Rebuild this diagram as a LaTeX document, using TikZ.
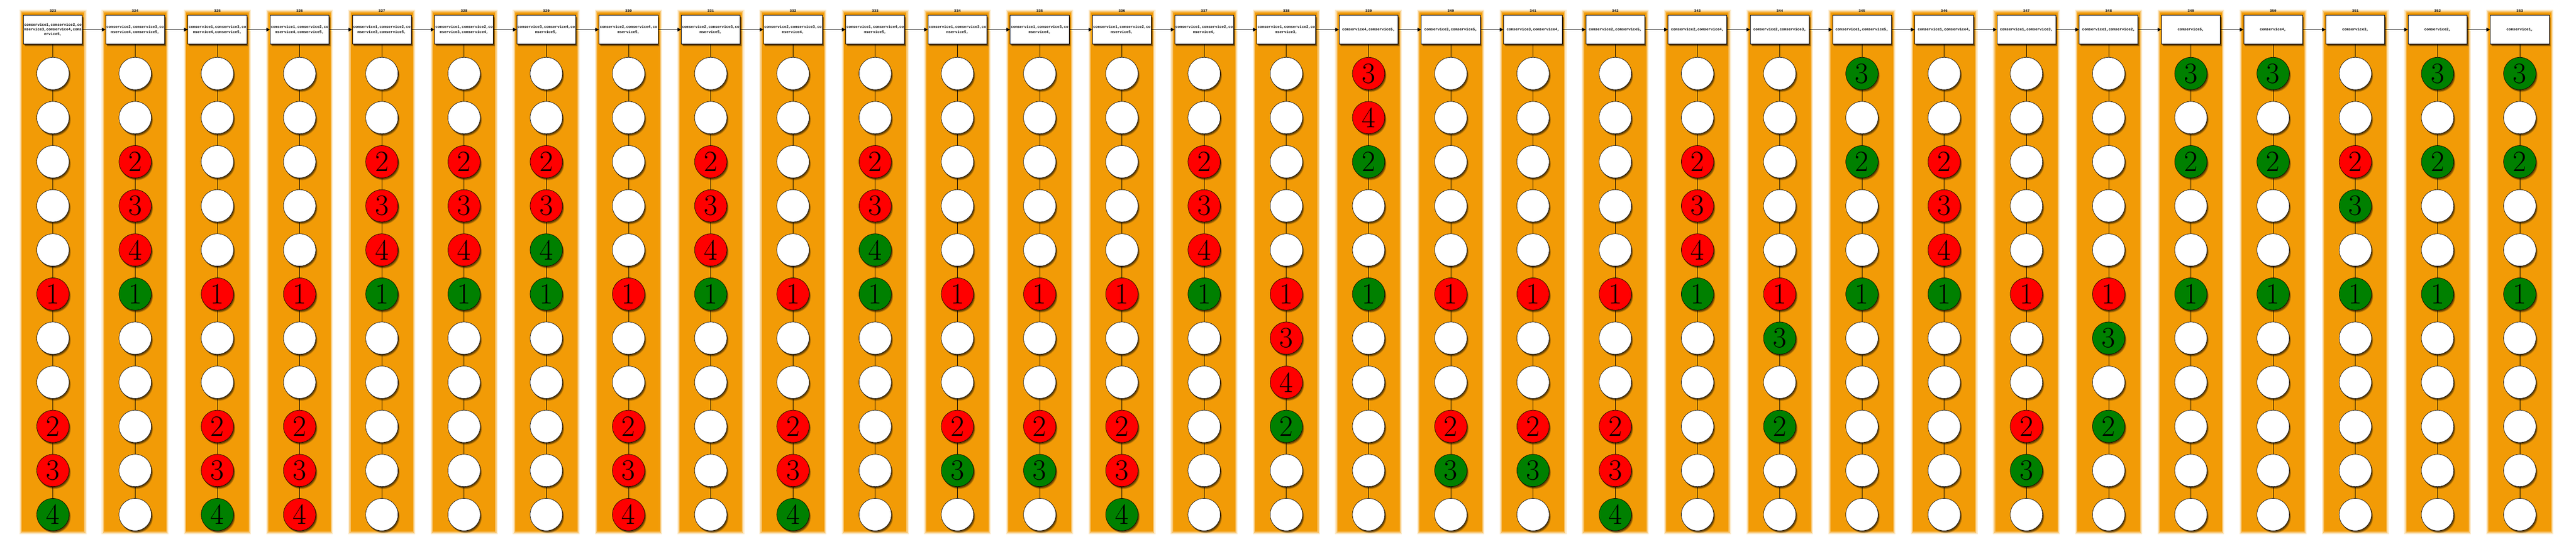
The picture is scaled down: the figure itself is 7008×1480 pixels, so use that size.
\documentclass[tikz,border=0pt]{standalone}
\usepackage{fontspec}
\setmonofont{Liberation Mono}
\usetikzlibrary{shadows,arrows.meta}
\definecolor{stripcol}{RGB}{242,155,6}
\colorlet{colw}{white}
\colorlet{colr}{red}
\colorlet{colg}{green!50!black}
\tikzset{
  softshadow/.style={
    drop shadow={shadow xshift=2.2pt, shadow yshift=-3.2pt, opacity=0.18, fill=black},
    drop shadow={shadow xshift=1.6pt, shadow yshift=-2.4pt, opacity=0.25, fill=black},
    drop shadow={shadow xshift=1pt, shadow yshift=-1.6pt, opacity=0.3, fill=black}},
  boxnode/.style={draw=black, line width=0.65pt, fill=white, minimum width=80pt, minimum height=39.5pt, inner sep=0pt, align=center,
    font=\ttfamily\bfseries\fontsize{5}{6.5}\selectfont, softshadow},
  labnode/.style={font=\ttfamily\bfseries\fontsize{5}{6}\selectfont, inner sep=0pt},
  circnode/.style={circle, draw=black, line width=0.5pt, minimum size=44pt, inner sep=0pt,
    font=\fontsize{40}{40}\selectfont, softshadow},
  link/.style={draw=black, line width=0.5pt},
  arr/.style={draw=black, line width=0.6pt, -{Triangle[length=5pt,width=5pt]}},
}
\newcommand\mycol[4]{%
  \pgfmathsetmacro\cx{144+223.7*#1}
  \fill[stripcol, opacity=0.2] (\cx-91,27) rectangle (\cx+91,1453);
  \fill[stripcol, opacity=0.45] (\cx-88,30) rectangle (\cx+88,1450);
  \fill[stripcol] (\cx-85,33) rectangle (\cx+85,1447);
  \node[labnode] (l-#1) at (\cx,30) {#2};
  \node[boxnode] (b-#1) at (\cx,80.5) {#3};
  \foreach \cc/\nn [count=\rr] in {#4} {
    \node[circnode, fill=col\cc] (c-#1-\rr) at (\cx,{200+120*(\rr-1)}) {\nn};
  }
  \draw[link] (b-#1.south) -- (c-#1-1.north);
  \foreach \rr [evaluate=\rr as \rn using int(\rr+1)] in {1,...,10}
    \draw[link] (c-#1-\rr.south) -- (c-#1-\rn.north);
}
\begin{document}
\begin{tikzpicture}[x=0.5pt,y=-0.5pt]
\fill[white] (0,0) rectangle (7008,1480);
\useasboundingbox (0,0) rectangle (7008,1480);
\mycol{0}{323}{comservice1,comservice2,co\\mservice3,comservice4,coms\\ervice5,}{w/{},w/{},w/{},w/{},w/{},r/1,w/{},w/{},r/2,r/3,g/4}
\mycol{1}{324}{comservice2,comservice3,co\\mservice4,comservice5,}{w/{},w/{},r/2,r/3,r/4,g/1,w/{},w/{},w/{},w/{},w/{}}
\mycol{2}{325}{comservice1,comservice3,co\\mservice4,comservice5,}{w/{},w/{},w/{},w/{},w/{},r/1,w/{},w/{},r/2,r/3,g/4}
\mycol{3}{326}{comservice1,comservice2,co\\mservice4,comservice5,}{w/{},w/{},w/{},w/{},w/{},r/1,w/{},w/{},r/2,r/3,r/4}
\mycol{4}{327}{comservice1,comservice2,co\\mservice3,comservice5,}{w/{},w/{},r/2,r/3,r/4,g/1,w/{},w/{},w/{},w/{},w/{}}
\mycol{5}{328}{comservice1,comservice2,co\\mservice3,comservice4,}{w/{},w/{},r/2,r/3,r/4,g/1,w/{},w/{},w/{},w/{},w/{}}
\mycol{6}{329}{comservice3,comservice4,co\\mservice5,}{w/{},w/{},r/2,r/3,g/4,g/1,w/{},w/{},w/{},w/{},w/{}}
\mycol{7}{330}{comservice2,comservice4,co\\mservice5,}{w/{},w/{},w/{},w/{},w/{},r/1,w/{},w/{},r/2,r/3,r/4}
\mycol{8}{331}{comservice2,comservice3,co\\mservice5,}{w/{},w/{},r/2,r/3,r/4,g/1,w/{},w/{},w/{},w/{},w/{}}
\mycol{9}{332}{comservice2,comservice3,co\\mservice4,}{w/{},w/{},w/{},w/{},w/{},r/1,w/{},w/{},r/2,r/3,g/4}
\mycol{10}{333}{comservice1,comservice4,co\\mservice5,}{w/{},w/{},r/2,r/3,g/4,g/1,w/{},w/{},w/{},w/{},w/{}}
\mycol{11}{334}{comservice1,comservice3,co\\mservice5,}{w/{},w/{},w/{},w/{},w/{},r/1,w/{},w/{},r/2,g/3,w/{}}
\mycol{12}{335}{comservice1,comservice3,co\\mservice4,}{w/{},w/{},w/{},w/{},w/{},r/1,w/{},w/{},r/2,g/3,w/{}}
\mycol{13}{336}{comservice1,comservice2,co\\mservice5,}{w/{},w/{},w/{},w/{},w/{},r/1,w/{},w/{},r/2,r/3,g/4}
\mycol{14}{337}{comservice1,comservice2,co\\mservice4,}{w/{},w/{},r/2,r/3,r/4,g/1,w/{},w/{},w/{},w/{},w/{}}
\mycol{15}{338}{comservice1,comservice2,co\\mservice3,}{w/{},w/{},w/{},w/{},w/{},r/1,r/3,r/4,g/2,w/{},w/{}}
\mycol{16}{339}{comservice4,comservice5,}{r/3,r/4,g/2,w/{},w/{},g/1,w/{},w/{},w/{},w/{},w/{}}
\mycol{17}{340}{comservice3,comservice5,}{w/{},w/{},w/{},w/{},w/{},r/1,w/{},w/{},r/2,g/3,w/{}}
\mycol{18}{341}{comservice3,comservice4,}{w/{},w/{},w/{},w/{},w/{},r/1,w/{},w/{},r/2,g/3,w/{}}
\mycol{19}{342}{comservice2,comservice5,}{w/{},w/{},w/{},w/{},w/{},r/1,w/{},w/{},r/2,r/3,g/4}
\mycol{20}{343}{comservice2,comservice4,}{w/{},w/{},r/2,r/3,r/4,g/1,w/{},w/{},w/{},w/{},w/{}}
\mycol{21}{344}{comservice2,comservice3,}{w/{},w/{},w/{},w/{},w/{},r/1,g/3,w/{},g/2,w/{},w/{}}
\mycol{22}{345}{comservice1,comservice5,}{g/3,w/{},g/2,w/{},w/{},g/1,w/{},w/{},w/{},w/{},w/{}}
\mycol{23}{346}{comservice1,comservice4,}{w/{},w/{},r/2,r/3,r/4,g/1,w/{},w/{},w/{},w/{},w/{}}
\mycol{24}{347}{comservice1,comservice3,}{w/{},w/{},w/{},w/{},w/{},r/1,w/{},w/{},r/2,g/3,w/{}}
\mycol{25}{348}{comservice1,comservice2,}{w/{},w/{},w/{},w/{},w/{},r/1,g/3,w/{},g/2,w/{},w/{}}
\mycol{26}{349}{comservice5,}{g/3,w/{},g/2,w/{},w/{},g/1,w/{},w/{},w/{},w/{},w/{}}
\mycol{27}{350}{comservice4,}{g/3,w/{},g/2,w/{},w/{},g/1,w/{},w/{},w/{},w/{},w/{}}
\mycol{28}{351}{comservice3,}{w/{},w/{},r/2,g/3,w/{},g/1,w/{},w/{},w/{},w/{},w/{}}
\mycol{29}{352}{comservice2,}{g/3,w/{},g/2,w/{},w/{},g/1,w/{},w/{},w/{},w/{},w/{}}
\mycol{30}{353}{comservice1,}{g/3,w/{},g/2,w/{},w/{},g/1,w/{},w/{},w/{},w/{},w/{}}
\foreach \k [evaluate=\k as \kn using int(\k+1)] in {0,...,29}
  \draw[arr] (b-\k.east) -- (b-\kn.west);
\end{tikzpicture}
\end{document}
